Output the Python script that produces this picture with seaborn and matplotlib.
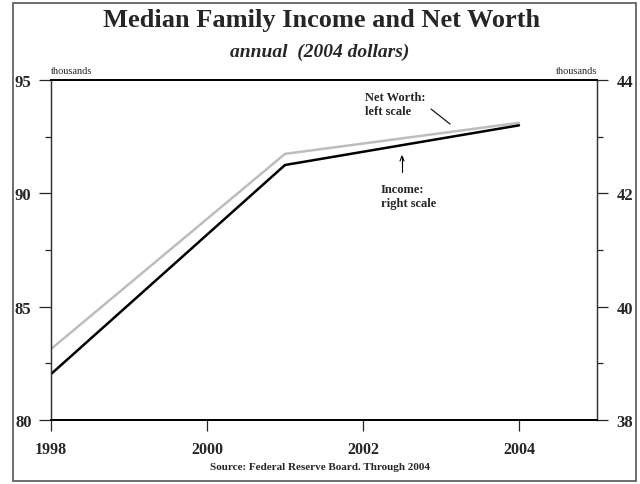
import matplotlib
matplotlib.use("Agg")
import matplotlib.pyplot as plt
import seaborn as sns
import pandas as pd
from matplotlib.patches import Rectangle
from matplotlib.ticker import MultipleLocator

years = [1998, 2001, 2004]
net_worth = [83.13, 91.74, 93.11]   # left scale, thousands
income = [38.81, 42.50, 43.20]      # right scale, thousands
x_ticks = [1998, 2000, 2002, 2004]
left_ticks = [80, 85, 90, 95]
right_ticks = [38, 40, 42, 44]

sns.set_style("ticks")
plt.rcParams['font.family'] = ['Liberation Serif', 'DejaVu Serif']

df = pd.DataFrame({"year": years, "net_worth": net_worth, "income": income})

W, H = 640, 485
fig = plt.figure(figsize=(W / 100, H / 100), dpi=100)
ax = fig.add_axes([51 / W, 1 - 421 / H, (597 - 51) / W, (421 - 81) / H])
ax2 = ax.twinx()

sns.lineplot(data=df, x="year", y="net_worth", ax=ax, color="#bdbdbd", linewidth=1.8)
sns.lineplot(data=df, x="year", y="income", ax=ax2, color="black", linewidth=1.8)

ax.set_xlim(1998, 2005)
ax.set_ylim(80, 95)
ax2.set_ylim(38, 44)
ax.set_xticks(x_ticks)
ax.set_yticks(left_ticks)
ax2.set_yticks(right_ticks)
ax.yaxis.set_minor_locator(MultipleLocator(2.5))
ax2.yaxis.set_minor_locator(MultipleLocator(1))
ax.set_xlabel("")
ax.set_ylabel("")
ax2.set_ylabel("")

for a in (ax, ax2):
    for s in a.spines.values():
        s.set_visible(True)
        s.set_color("black")
    a.spines['left'].set_linewidth(0.9)
    a.spines['right'].set_linewidth(0.9)
    a.spines['left'].set_color("#333333")
    a.spines['right'].set_color("#333333")
    a.spines['top'].set_linewidth(1.3)
    a.spines['bottom'].set_linewidth(1.3)

ax.tick_params(axis='y', which='major', direction='out', length=9, width=0.9, pad=5,
               labelsize=12)
ax.tick_params(axis='y', which='minor', direction='out', length=4, width=0.9)
ax2.tick_params(axis='y', which='major', direction='out', length=8, width=0.9, pad=6,
                labelsize=12)
ax2.tick_params(axis='y', which='minor', direction='out', length=4, width=0.9)
ax.tick_params(axis='x', which='major', direction='out', length=8, width=0.9, pad=7,
               labelsize=11.5)
for lab in ax.get_xticklabels() + ax.get_yticklabels() + ax2.get_yticklabels():
    lab.set_fontweight('bold')

# Titles and text
fig.text(322 / W, 1 - 20 / H, "Median Family Income and Net Worth", ha='center', va='center',
         fontsize=19, fontweight='bold')
fig.text(320 / W, 1 - 52 / H, "annual  (2004 dollars)", ha='center', va='center',
         fontsize=14, fontweight='bold', style='italic')
fig.text(51 / W, 1 - 72 / H, "thousands", ha='left', va='center', fontsize=7.5)
fig.text(597 / W, 1 - 72 / H, "thousands", ha='right', va='center', fontsize=7.5)
fig.text(320 / W, 1 - 468 / H, "Source: Federal Reserve Board. Through 2004", ha='center',
         va='center', fontsize=8, fontweight='bold')

# Annotations
fig.text(365 / W, 1 - 105 / H, "Net Worth:\nleft scale", ha='left', va='center',
         fontsize=9, fontweight='bold', linespacing=1.3)
fig.text(381 / W, 1 - 197 / H, "Income:\nright scale", ha='left', va='center',
         fontsize=9, fontweight='bold', linespacing=1.3)
fig.add_artist(plt.Line2D([431 / W, 450 / W], [1 - 110 / H, 1 - 125 / H], color='black',
                          linewidth=0.8))
fig.add_artist(plt.Line2D([402 / W, 402 / W], [1 - 173 / H, 1 - 158 / H], color='black',
                          linewidth=0.8))
fig.add_artist(plt.Line2D([400 / W, 402 / W, 404 / W], [1 - 162 / H, 1 - 157 / H, 1 - 162 / H],
                          color='black', linewidth=0.8))

# Outer border
fig.patches.append(Rectangle((13 / W, 1 - 482 / H), (636 - 13) / W, (482 - 4) / H,
                             transform=fig.transFigure, fill=False, edgecolor='#555555',
                             linewidth=1.2))

fig.savefig("out.png", dpi=100)
